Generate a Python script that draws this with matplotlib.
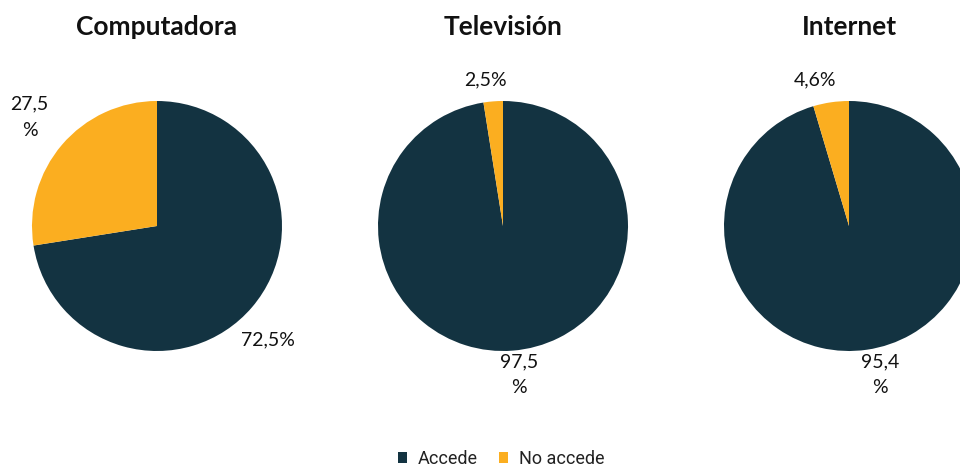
import matplotlib.pyplot as plt
from matplotlib.patches import Patch

# data
titles = ['Computadora', 'Televisión', 'Internet']
accede = [72.5, 97.5, 95.4]
no_accede = [27.5, 2.5, 4.6]
categorias = ['Accede', 'No accede']
colores = ['#133341', '#FBAE20']

# label positions relative to pie (radius = 1): (accede, no accede)
label_pos = [
    ((0.89, -0.91), (-1.02, 0.87)),
    ((0.13, -1.19), (-0.14, 1.17)),
    ((0.25, -1.19), (-0.27, 1.17)),
]
wrap = [(False, True), (True, False), (True, False)]

plt.rcParams['font.family'] = ['Lato', 'DejaVu Sans']

W, H = 960, 469
fig = plt.figure(figsize=(W / 100, H / 100), dpi=100)

centers_x = [157, 503, 849]
cy = 226
r = 125

for i, t in enumerate(titles):
    ax = fig.add_axes([(centers_x[i] - r) / W, (H - cy - r) / H, 2 * r / W, 2 * r / H])
    ax.pie([accede[i], no_accede[i]], colors=colores, startangle=90,
           counterclock=False, radius=1, wedgeprops=dict(linewidth=0))
    ax.set_xlim(-1, 1)
    ax.set_ylim(-1, 1)
    ax.set_aspect('equal')
    ax.axis('off')
    vals = [accede[i], no_accede[i]]
    for j in range(2):
        s = f"{vals[j]:.1f}".replace('.', ',')
        s = s + ('\n%' if wrap[i][j] else '%')
        ax.text(label_pos[i][j][0], label_pos[i][j][1], s, ha='center', va='center',
                fontsize=14, color='#111111', linespacing=1.65)
    fig.text(centers_x[i] / W, 1 - 27 / H, t, ha='center', va='center',
             fontsize=19, fontweight='bold', color='#111111')

handles = [Patch(facecolor=c, edgecolor='none') for c in colores]
fig.legend(handles, categorias, loc='center', bbox_to_anchor=(0.522, 1 - 459 / H),
           ncol=2, frameon=False, handlelength=0.5, handleheight=0.5,
           columnspacing=1.2, handletextpad=0.6, labelcolor='#222222',
           prop={'family': 'Roboto', 'size': 13})

fig.savefig('out.png', dpi=100)
